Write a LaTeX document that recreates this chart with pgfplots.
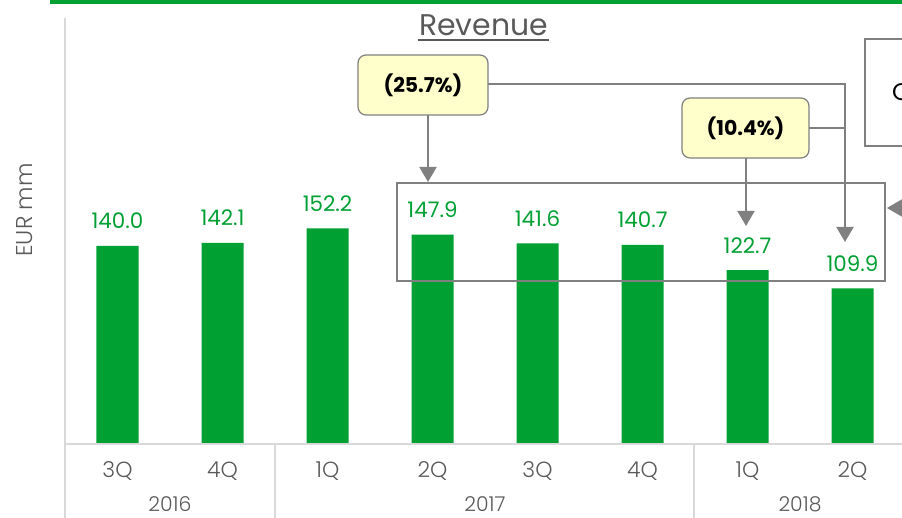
\documentclass[border=0pt]{standalone}
\usepackage{fontspec}
\setmainfont{Poppins}
\IfFontExistsTF{Poppins Light}{\newfontfamily\lightf{Poppins Light}}{\newfontfamily\lightf{Poppins}}
\usepackage{pgfplots}
\pgfplotsset{compat=1.18}
\usetikzlibrary{arrows.meta}
\definecolor{barg}{HTML}{00A033}
\definecolor{txtg}{HTML}{595959}
\definecolor{annot}{HTML}{808080}
\definecolor{axisg}{HTML}{D9D9D9}
\definecolor{callout}{HTML}{FFFFCC}
\begin{document}
\begin{tikzpicture}[x=1bp,y=1bp]
\path (-65,-74) rectangle (837,444);
\begin{axis}[
  at={(0,0)}, anchor=south west,
  scale only axis, width=837bp, height=424.8bp,
  xmin=-0.5, xmax=7.4714, ymin=0, ymax=300,
  axis line style={draw=none},
  ytick=\empty,
  xtick=data,
  xticklabels={3Q,4Q,1Q,2Q,3Q,4Q,1Q,2Q},
  major tick length=0pt,
  xticklabel style={font=\lightf\fontsize{22}{26}\selectfont, text=txtg, anchor=base, yshift=-34bp, inner sep=0pt, overlay},
  ybar, bar width=42bp,
  clip=false,
  nodes near coords={\pgfmathprintnumber[fixed,fixed zerofill,precision=1,assume math mode=true]{\pgfplotspointmeta}},
  every node near coord/.append style={font=\fontsize{21.5}{25}\selectfont, text=barg, inner sep=0pt, yshift=16.5bp},
]
\addplot[fill=barg, draw=none] coordinates {(0,140.0) (1,142.1) (2,152.2) (3,147.9) (4,141.6) (5,140.7) (6,122.7) (7,109.9)};
\node[overlay, anchor=base, text=txtg, font=\lightf\fontsize{20.5}{24}\selectfont, inner sep=0pt] at ([yshift=-67.5bp]axis cs:0.5,0) {2016};
\node[overlay, anchor=base, text=txtg, font=\lightf\fontsize{20.5}{24}\selectfont, inner sep=0pt] at ([yshift=-67.5bp]axis cs:3.5,0) {2017};
\node[overlay, anchor=base, text=txtg, font=\lightf\fontsize{20.5}{24}\selectfont, inner sep=0pt] at ([yshift=-67.5bp]axis cs:6.5,0) {2018};
\end{axis}
\begin{scope}[shift={(-65,444)}, yscale=-1, overlay]
  \fill[barg] (50,0) rectangle (902,4.5);
  \draw[axisg, line width=1.5bp] (65,18) -- (65,518);
  \draw[axisg, line width=2bp] (65,444) -- (902,444);
  \draw[axisg, line width=1.5bp] (275,444) -- (275,518);
  \draw[axisg, line width=1.5bp] (694,444) -- (694,518);
  \node[anchor=base, text=txtg, font=\fontsize{30}{36}\selectfont, inner sep=0pt] at (483.5,36) {Revenue};
  \draw[txtg, line width=1.5bp] (418,40) -- (549,40);
  \node[rotate=90, text=txtg, font=\lightf\fontsize{23}{27}\selectfont, inner sep=0pt] at (25,210) {EUR mm};
  % annotations
  \draw[annot, line width=2bp, -{Triangle[length=15bp,width=17bp]}] (488,84) -- (845,84) -- (845,242);
  \draw[annot, line width=2bp, -{Triangle[length=15bp,width=17bp]}] (428,115) -- (428,182);
  \draw[annot, line width=2bp] (809,128) -- (845,128);
  \draw[annot, line width=2bp, -{Triangle[length=15bp,width=17bp]}] (746,158) -- (746,226);
  \draw[annot, line width=2bp] (397,183) rectangle (885,281);
  \draw[annot, line width=1.5bp, fill=white] (865,39) rectangle (930,146);
  \node[anchor=base west, inner sep=0pt, font=\fontsize{24}{30}\selectfont] at (892,101) {C};
  \draw[annot, line width=2bp, -{Triangle[length=15bp,width=17bp]}] (930,208) -- (887,208);
  \node[draw=annot, fill=callout, rounded corners=8bp, line width=1.2bp, minimum width=130bp, minimum height=60bp, inner sep=0pt, font=\bfseries\fontsize{20.5}{24}\selectfont] at (423,85) {(25.7\%)};
  \node[draw=annot, fill=callout, rounded corners=8bp, line width=1.2bp, minimum width=127bp, minimum height=60bp, inner sep=0pt, font=\bfseries\fontsize{20.5}{24}\selectfont] at (745.5,128) {(10.4\%)};
\end{scope}
\end{tikzpicture}
\end{document}
